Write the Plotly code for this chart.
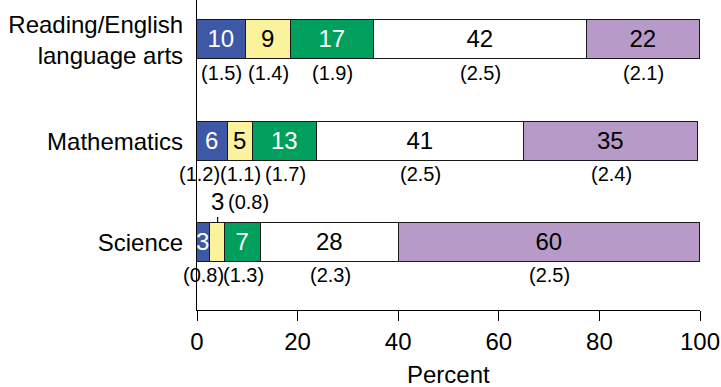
import plotly.graph_objects as go

# rows (top to bottom)
categories = ["Reading/English<br>language arts", "Mathematics", "Science"]

# segment widths (percent)
seg1 = [9.7, 6.1, 2.6]
seg2 = [8.9, 5.1, 3.0]
seg3 = [16.6, 12.6, 7.1]
seg4 = [42.3, 41.3, 27.5]
seg5 = [22.5, 34.6, 59.8]

# printed values and standard errors
lab1 = ["10", "6", "3"]
lab2 = ["9", "5", "3"]
lab3 = ["17", "13", "7"]
lab4 = ["42", "41", "28"]
lab5 = ["22", "35", "60"]

se1 = ["1.5", "1.2", "0.8"]
se2 = ["1.4", "1.1", "0.8"]
se3 = ["1.9", "1.7", "1.3"]
se4 = ["2.5", "2.5", "2.3"]
se5 = ["2.1", "2.4", "2.5"]

FONT = "Liberation Sans, Arial, sans-serif"
colors = ["#3E58A8", "#FAF39C", "#009F5D", "#FFFFFF", "#B79AC8"]
text_colors = ["white", "black", "white", "black", "black"]

series = [seg1, seg2, seg3, seg4, seg5]
labels = [lab1, lab2, lab3, lab4, lab5]
ses = [se1, se2, se3, se4, se5]

fig = go.Figure()
for k, (vals, labs) in enumerate(zip(series, labels)):
    # the narrow yellow Science segment gets its label above the bar instead
    shown = [("" if (k == 1 and j == 2) else t) for j, t in enumerate(labs)]
    fig.add_trace(go.Bar(
        x=vals, y=categories, orientation="h", width=0.385,
        marker=dict(color=colors[k], line=dict(color="#1a1a1a", width=1.5)),
        text=shown, textposition="inside", insidetextanchor="middle",
        constraintext="none", textangle=0,
        insidetextfont=dict(family=FONT, size=24, color=text_colors[k]),
        showlegend=False, hoverinfo="skip",
    ))

# standard errors under each segment
annotations = []
for j, cat in enumerate(categories):
    start = 0
    for k in range(5):
        mid = start + series[k][j] / 2
        start += series[k][j]
        if k == 1 and j == 2:
            annotations.append(dict(x=mid, y=cat, text=labels[k][j], showarrow=True,
                                    arrowhead=0, arrowwidth=1.2, arrowcolor="black",
                                    ax=0, ay=-21, yshift=19.5,
                                    font=dict(family=FONT, size=24, color="black")))
            annotations.append(dict(x=mid, y=cat, text="(" + ses[k][j] + ")", showarrow=False,
                                    xshift=31, yshift=40,
                                    font=dict(family=FONT, size=20, color="black")))
            continue
        xshift = -13 if (k == 0 and j == 1) else 0
        annotations.append(dict(x=mid, y=cat, text="(" + ses[k][j] + ")", showarrow=False,
                                xshift=xshift, yshift=-33,
                                font=dict(family=FONT, size=20, color="black")))

# axis title placed under the tick labels
annotations.append(dict(x=0.5, y=-0.208, xref="paper", yref="paper", yanchor="middle",
                        text="Percent", showarrow=False,
                        font=dict(family=FONT, size=24, color="black")))

fig.update_layout(
    barmode="stack",
    width=721, height=387,
    margin=dict(l=197, r=21, t=0, b=77),
    paper_bgcolor="white", plot_bgcolor="white",
    font=dict(family=FONT, size=24, color="black"),
    annotations=annotations,
    bargap=0,
)
fig.update_xaxes(
    range=[0, 100], tickvals=[0, 20, 40, 60, 80, 100],
    ticks="outside", ticklen=10, tickwidth=1.2, tickcolor="black",
    showline=True, linecolor="black", linewidth=1.2,
    showgrid=False, zeroline=False, automargin=False,
    tickfont=dict(size=24),
)
fig.update_yaxes(
    categoryorder="array", categoryarray=categories,
    range=[2.667, -0.394],
    showline=True, linecolor="black", linewidth=1.2,
    ticks="", showgrid=False, zeroline=False, automargin=False,
    tickfont=dict(size=24), ticklabelstandoff=8,
)

# drop the default 8px body margin so the figure fills the window exactly
fig.write_html("out.html", config={"displayModeBar": False},
               post_script="document.body.style.margin = '0';")
